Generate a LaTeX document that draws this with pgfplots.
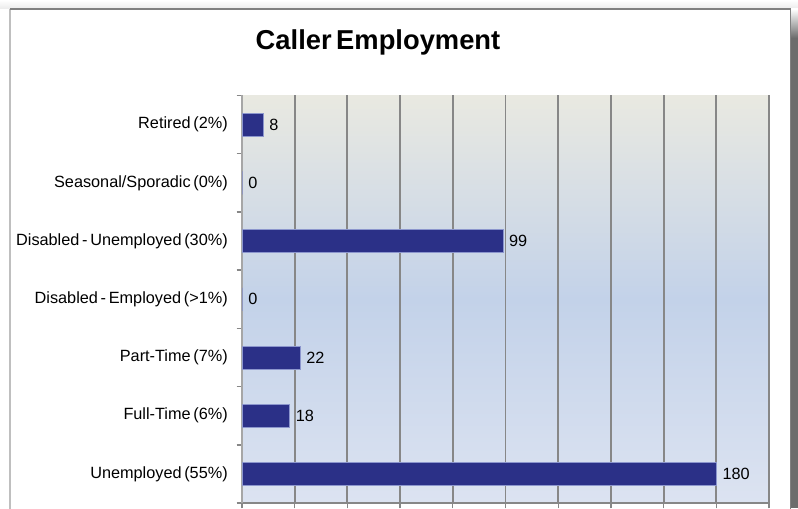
\documentclass[border=0pt]{standalone}
\usepackage{pgfplots}
\pgfplotsset{compat=1.18}
\usepackage{fontspec}
\setmainfont{Liberation Sans}[WordSpace=0.6]
\definecolor{barblue}{RGB}{43,48,135}
\definecolor{baredge}{RGB}{140,150,205}
\definecolor{gridgray}{RGB}{135,135,135}
\definecolor{bgtop}{RGB}{233,233,225}
\definecolor{bgmid}{RGB}{195,210,233}
\definecolor{bgbot}{RGB}{220,227,241}
\definecolor{shadowgray}{RGB}{108,108,108}
\pgfdeclareverticalshading{axisbg}{100bp}{color(0bp)=(bgbot); color(25bp)=(bgbot); color(50bp)=(bgmid); color(75bp)=(bgtop); color(100bp)=(bgtop)}
\begin{document}
\begin{tikzpicture}[x=0.75pt,y=0.75pt]
% picture 798x508 px; y measured upward: ypt = 508 - ypx
\clip (0,0) rectangle (798,508);
\fill[white] (0,0) rectangle (798,508);
% top strip
\shade[top color=white, bottom color=black!8] (0,499) rectangle (798,508);
% right shadow
\fill[shadowgray] (790.5,0) rectangle (798,470);
\shade[top color=white, bottom color=shadowgray] (790.5,470) rectangle (798,499);
% frame
\fill[white] (10,-5) rectangle (790.5,499);
\draw[black!25, line width=0.9] (10,-5) -- (10,499);
\draw[black!50, line width=1.2] (10,499) -- (790.5,499) -- (790.5,-5);
% title
\node[anchor=base, font=\bfseries\fontsize{20.5}{24}\selectfont, inner sep=0pt] at (378,458) {Caller Employment};
\begin{axis}[
  at={(181.5pt,3.7pt)}, anchor=south west,
  scale only axis,
  width=395.25pt, height=305.7pt,
  xbar,
  bar width=17.25pt,
  xmin=0, xmax=200,
  ymin=-0.5, ymax=6.5,
  xtick={0,20,...,200},
  xticklabels={},
  ytick={-0.5,0.5,...,6.5},
  y tick label as interval,
  yticklabels={Unemployed (55\%),Full-Time (6\%),Part-Time (7\%),Disabled - Employed (>1\%),Disabled - Unemployed (30\%),Seasonal/Sporadic (0\%),Retired (2\%)},
  yticklabel style={font=\fontsize{12.2}{14}\selectfont, inner sep=0pt, xshift=-6.5pt},
  tick align=outside,
  major tick length=4pt,
  tick style={draw=gridgray, line width=1pt},
  axis x line*=bottom,
  axis y line*=left,
  x axis line style={-, draw=gridgray, line width=1.2pt},
  y axis line style={-, draw=black!35, line width=1pt},
  xmajorgrids,
  major grid style={draw=gridgray, line width=1.4pt},
  axis background/.style={shade, shading=axisbg},
  /pgf/number format/assume math mode=true,
  nodes near coords,
  nodes near coords style={anchor=west, inner sep=0pt, xshift=4.5pt, font=\fontsize{12.2}{14}\selectfont, text=black},
]
\addplot[fill=barblue, draw=baredge, line width=0.5pt] coordinates {
  (180,0) (18,1) (22,2) (0,3) (99,4) (0,5) (8,6)
};
\end{axis}
\end{tikzpicture}
\end{document}
